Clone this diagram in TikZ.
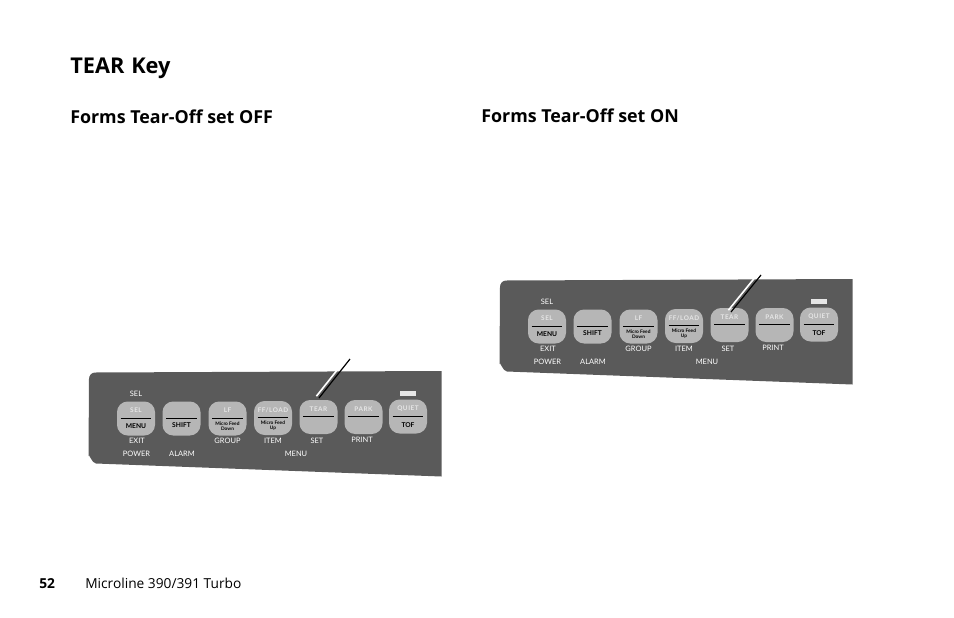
\documentclass[tikz,border=0pt]{standalone}
\usepackage{fontspec}
\setmainfont{Open Sans}
\newfontfamily\keyfont{Lato}
\newfontfamily\capfont[LetterSpace=8]{Lato}
\usepackage{tikz}
\usetikzlibrary{calc,positioning}
\definecolor{panelgray}{HTML}{5A5A5A}
\definecolor{keygray}{HTML}{B6B6B6}
\definecolor{capgray}{HTML}{E6E6E6}
\tikzset{
  title/.style={anchor=base west, inner sep=0pt, font=\bfseries\fontsize{16.3}{20}\selectfont},
  head/.style={anchor=base west, inner sep=0pt, font=\bfseries\fontsize{13.4}{15}\selectfont},
  foot/.style={anchor=base west, inner sep=0pt, font=\fontsize{10.3}{12}\selectfont},
  panel/.style={fill=panelgray, draw=none},
  key/.style={fill=keygray, rounded corners=8pt, minimum width=28.5pt, minimum height=25.5pt, inner sep=0pt},
  rule/.style={black, line width=0.7pt},
  upper/.style={inner sep=0pt, text=capgray, font=\capfont\bfseries\fontsize{4.8}{5}\selectfont},
  lower/.style={inner sep=0pt, text=black, align=center, font=\keyfont\bfseries\fontsize{5}{5.5}\selectfont},
  micro/.style={lower, font=\keyfont\bfseries\fontsize{3.6}{3.9}\selectfont},
  legend/.style={inner sep=0pt, text=white, font=\keyfont\fontsize{5.6}{6}\selectfont},
  lamp/.style={fill=capgray, minimum width=12pt, minimum height=4pt, inner sep=0pt},
  tearline/.style={line width=0.9pt}
}
% one control panel: prefix, shift x, shift y, pointer tail, pointer tip
\newcommand{\tearpanel}[5]{
  \begin{scope}[shift={(#2,#3)}]
    \fill[panel] (95,372.5) -- (441.5,371) -- (441.5,476.5) -- (96,463.5)
      to[out=180,in=90] (88.5,456) -- (89,379) to[out=90,in=180] (95,372.5);
    % keys
    \foreach \nm/\cx/\cy in {sel/136/418.5,shift/181.5/418.5,lf/227.5/418.5,ff/273/418,tear/318.5/417,park/363.5/417,quiet/408/416.5}{
      \node[key] (#1\nm) at (\cx,\cy) {};
      \draw[rule] ($(#1\nm.west)+(4,-0.5)$) -- ($(#1\nm.east)+(-4,-0.5)$);
    }
    \foreach \nm/\txt in {sel/SEL,lf/LF,ff/{FF/LOAD},tear/TEAR,park/PARK,quiet/QUIET}{
      \node[upper] (#1\nm up) at ($(#1\nm.center)+(0,-8)$) {\txt};
    }
    \node[lower] (#1menukey) at ($(#1sel.center)+(0,7.5)$) {MENU};
    \node[lower] (#1shiftkey) at ($(#1shift.center)+(0,6.5)$) {SHIFT};
    \node[lower] (#1tofkey) at ($(#1quiet.center)+(0,8.5)$) {TOF};
    \node[micro] (#1downkey) at ($(#1lf.center)+(0,7.5)$) {Micro Feed\\Down};
    \node[micro] (#1upkey) at ($(#1ff.center)+(0,8)$) {Micro Feed\\Up};
    \node[lamp] (#1lamp) at (408,393.5) {};
    % legends
    \node[legend] (#1seltop) at (136,393.5) {SEL};
    \node[legend] (#1exit) at (137,441) {EXIT};
    \node[legend] (#1power) at (136.5,453.5) {POWER};
    \node[legend] (#1alarm) at (182,453.5) {ALARM};
    \node[legend] (#1group) at (227.5,441) {GROUP};
    \node[legend] (#1item) at (273,441) {ITEM};
    \node[legend] (#1set) at (317,441) {SET};
    \node[legend] (#1print) at (362,440) {PRINT};
    \node[legend] (#1menu) at (296,454) {MENU};
  \end{scope}
  \coordinate (#1tail) at #4;
  \coordinate (#1tip) at #5;
  \draw[tearline, white, line width=1.2pt] ($(#1tail)+(-2.6,-1.8)$) -- ($(#1tip)+(-2.6,-1.8)$);
  \draw[tearline, black] (#1tail) -- (#1tip);
}

\begin{document}
\begin{tikzpicture}[x=0.75pt, y=-0.75pt]
  \useasboundingbox (0,0) rectangle (954,618);
  \node[title] (tearhead) at (70,73) {TEAR\hspace{0.06em} Key};
  \node[head] (offhead) at (70,123) {Forms Tear-Off set OFF};
  \node[head] (onhead) at (481,122) {Forms Tear-Off set ON};
  \tearpanel{a}{0}{0}{(350,359)}{(319,398)}
  \tearpanel{b}{411}{-92}{(761,275)}{(731,312)}
  \node[foot, font=\bfseries\fontsize{10.3}{12}\selectfont] (pagenum) at (39,588) {52};
  \node[foot] (pagename) at (85,588) {Microline 390/391 Turbo};
\end{tikzpicture}
\end{document}
